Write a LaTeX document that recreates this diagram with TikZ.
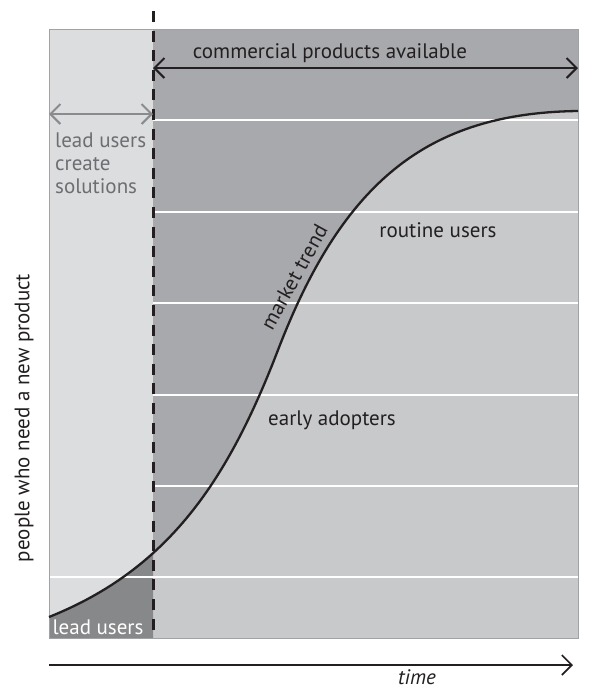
\documentclass[tikz,border=0pt]{standalone}
\usepackage{fontspec}
\setmainfont{PT Sans}
\usetikzlibrary{arrows.meta}
\definecolor{leftbg}{HTML}{DCDDDF}
\definecolor{topbg}{HTML}{A7A9AC}
\definecolor{lowbg}{HTML}{C8C9CB}
\definecolor{leaddark}{HTML}{87888A}
\definecolor{inkdark}{HTML}{231F20}
\definecolor{inkgray}{HTML}{6D6E71}
\definecolor{arrgray}{HTML}{8A8B8E}
\tikzset{
  barb/.style={arrows={Straight Barb[length=10pt,width=20pt]-Straight Barb[length=10pt,width=20pt]}},
  lbl/.style={font=\fontsize{21}{23}\selectfont, text=inkdark, inner sep=0pt},
  gridline/.style={white, line width=1.5pt}
}
\begin{document}
\begin{tikzpicture}[x=1pt,y=-1pt]
\useasboundingbox (0,0) rectangle (590,689);
\fill[lowbg] (49,29) rectangle (578,638);
\fill[topbg] (49,29) -- (49,617) .. controls (169,569) and (228,480) .. (278,350) .. controls (343,181) and (428,113) .. (578,111) -- (578,29) -- cycle;
\begin{scope}
\clip (49,29) rectangle (153,638);
\fill[leftbg] (49,29) rectangle (153,638);
\fill[leaddark] (49,638) -- (49,617) .. controls (169,569) and (228,480) .. (278,350) -- (278,638) -- cycle;
\end{scope}
\foreach \y in {120,212,303,395,486} \draw[gridline] (153,\y) -- (578,\y);
\draw[gridline] (49,577) -- (578,577);
\draw[arrgray!80, line width=0.8pt] (49,29) rectangle (578,638);
\draw[inkdark, line width=2.3pt] (49,617) .. controls (169,569) and (228,480) .. (278,350) .. controls (343,181) and (428,113) .. (578,111);
\draw[inkdark, line width=3pt, dash pattern=on 11pt off 8.6pt] (153,11) -- (153,630);
% arrows
\coordinate (cstart) at (153,68);
\coordinate (cend) at (578,68);
\draw[barb, inkdark, line width=2pt] (cstart) -- (cend);
\coordinate (lstart) at (49,114);
\coordinate (lend) at (153,114);
\draw[barb, arrgray, line width=2pt] (lstart) -- (lend);
\coordinate (tstart) at (49,665);
\coordinate (tend) at (573,665);
\draw[-{Straight Barb[length=10pt,width=20pt]}, inkdark, line width=1.6pt] (tstart) -- (tend);
% labels
\node[lbl] (commercial) at (330,53) {commercial products available};
\node[lbl, text=inkgray, align=left, anchor=north west] (create) at (55,133) {lead users\\create\\solutions};
\node[lbl, rotate=61] (market) at (294,277) {market trend};
\node[lbl] (routine) at (438,230) {routine users};
\node[lbl] (early) at (332,420) {early adopters};
\node[lbl, text=white] (lead) at (98,627) {lead users};
\node[lbl, rotate=90] (people) at (24,418) {people who need a new product};
\node[lbl, font=\fontsize{21}{23}\selectfont\itshape] (time) at (417,677) {time};
\end{tikzpicture}
\end{document}
